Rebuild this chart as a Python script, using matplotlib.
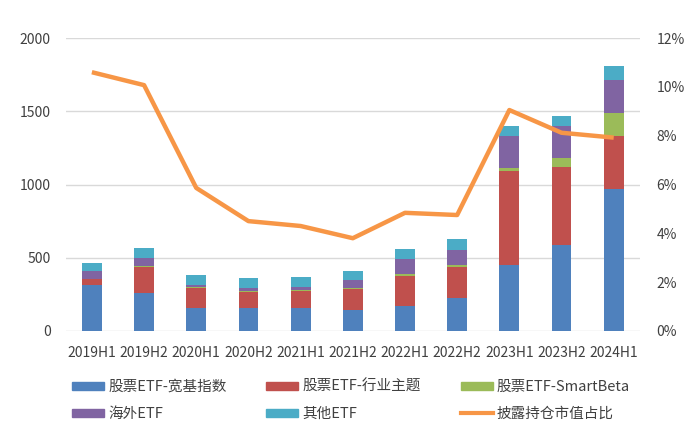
import numpy as np
import matplotlib.pyplot as plt
from matplotlib.patches import Patch
from matplotlib.lines import Line2D
from matplotlib.ticker import FuncFormatter

plt.rcParams['font.family'] = ['Noto Sans CJK SC', 'DejaVu Sans']

periods = ['2019H1', '2019H2', '2020H1', '2020H2', '2021H1', '2021H2',
           '2022H1', '2022H2', '2023H1', '2023H2', '2024H1']

broad = [314, 257, 159, 159, 159, 143, 171, 228, 450, 587, 967]
sector = [41, 182, 137, 105, 114, 144, 204, 211, 642, 535, 364]
smartbeta = [3, 7, 7, 7, 7, 5, 12, 11, 23, 62, 159]
overseas = [52, 50, 11, 20, 23, 56, 102, 103, 216, 215, 223]
other = [56, 68, 68, 69, 68, 62, 69, 73, 68, 71, 96]
ratio = [10.6, 10.07, 5.86, 4.5, 4.3, 3.8, 4.84, 4.75, 9.05, 8.12, 7.92]

names = ['股票ETF-宽基指数', '股票ETF-行业主题', '股票ETF-SmartBeta', '海外ETF', '其他ETF']
colors = ['#4F81BD', '#C0504D', '#9BBB59', '#8064A2', '#4BACC6']
line_color = '#F79646'
line_name = '披露持仓市值占比'

fig = plt.figure(figsize=(7, 4.37), dpi=100)
ax = fig.add_axes([0.094, 0.2426, 0.82, 0.6704])
ax2 = ax.twinx()

x = np.arange(len(periods))
bottom = np.zeros(len(periods))
for vals, c in zip([broad, sector, smartbeta, overseas, other], colors):
    ax.bar(x, vals, 0.38, bottom=bottom, color=c, zorder=2)
    bottom += np.array(vals)

ax2.plot(x, ratio, color=line_color, lw=3.2, solid_capstyle='butt', zorder=3)

ax.set_xlim(-0.5, len(periods) - 0.5)
ax.set_ylim(0, 2000)
ax.set_yticks(range(0, 2001, 500))
ax2.set_ylim(0, 12)
ax2.set_yticks(range(0, 13, 2))
ax2.yaxis.set_major_formatter(FuncFormatter(lambda v, p: f'{int(v)}%'))

ax.set_xticks(x)
ax.set_xticklabels(periods)
ax.yaxis.grid(True, color='#D9D9D9', lw=1, zorder=0)
ax.set_axisbelow(True)

for a in (ax, ax2):
    for s in a.spines.values():
        s.set_visible(False)
    a.tick_params(length=0, labelsize=10, colors='#404040')
ax.tick_params(axis='x', pad=11)
ax.tick_params(axis='y', pad=11)
ax2.tick_params(axis='y', pad=12)

handles = [Patch(color=c) for c in colors] + [Line2D([], [], color=line_color, lw=3)]
labels = names + [line_name]
order = [0, 3, 1, 4, 2, 5]
fig.legend([handles[i] for i in order], [labels[i] for i in order],
           loc='upper left', bbox_to_anchor=(0.103, 0.131), ncol=3, frameon=False,
           fontsize=10.5, handlelength=2.2, handleheight=0.5, columnspacing=2.7,
           labelcolor='#404040', handletextpad=0.3, labelspacing=0.9,
           borderaxespad=0, borderpad=0)

fig.savefig('out.png', dpi=100)
